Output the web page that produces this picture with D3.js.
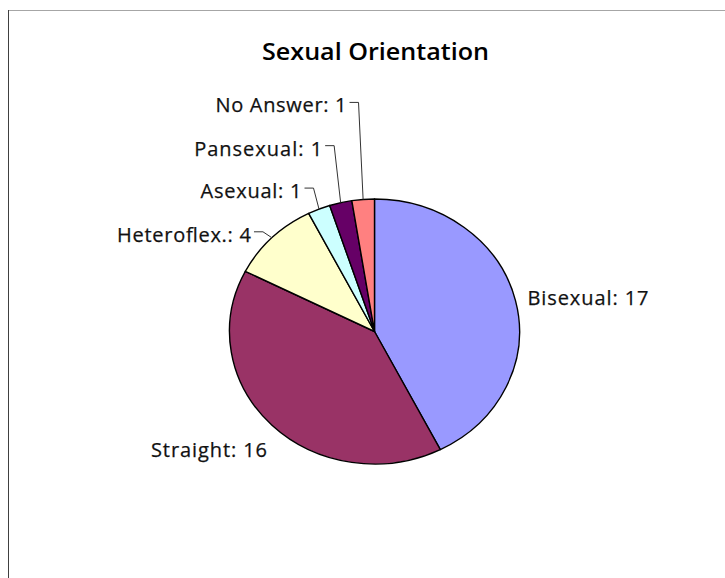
<!DOCTYPE html>
<html>
<head>
<meta charset="utf-8">
<script src="https://cdn.jsdelivr.net/npm/d3@7"></script>
<style>
  html, body { margin: 0; padding: 0; background: #fff; }
  svg { display: block; }
</style>
</head>
<body>
<svg id="chart" width="725" height="578"></svg>
<script>
// ---- data ----
const categories = ["Bisexual", "Straight", "Heteroflex.", "Asexual", "Pansexual", "No Answer"];
const values = [17, 16, 4, 1, 1, 1];
const colors = ["#9999FF", "#993366", "#FFFFCC", "#CCFFFF", "#660066", "#FF8080"];
const title = "Sexual Orientation";

// ---- layout (not data) ----
const W = 725, H = 578;
const cx = 374.5, cy = 331.5, ry = 132.5, rx = 145;
// label placement: "inline" (text near edge) or "leader" (leader line to bend point); w = rendered text width
const labelLayout = [
  { mode: "inline", dx: 12, dy: 4, anchor: "start", w: 121 },
  { mode: "inline", dx: -5, dy: 32, anchor: "end", w: 116 },
  { mode: "leader", dx: -9, dy: -6, w: 134 },
  { mode: "leader", dx: -5.5, dy: -21, w: 101 },
  { mode: "leader", dx: -6.5, dy: -57, w: 128 },
  { mode: "leader", dx: -4.6, dy: -97, w: 131 }
];

const svg = d3.select("#chart");

// frame lines
svg.append("line").attr("x1", 8).attr("x2", W).attr("y1", 10.5).attr("y2", 10.5)
  .attr("stroke", "#a6a6a6").attr("stroke-width", 1);
svg.append("line").attr("x1", 8.5).attr("x2", 8.5).attr("y1", 10).attr("y2", H)
  .attr("stroke", "#404040").attr("stroke-width", 1);

// title
svg.append("text")
  .attr("x", 262).attr("y", 59.5)
  .attr("text-anchor", "start")
  .attr("font-family", "'Open Sans', sans-serif")
  .attr("font-weight", 600)
  .attr("font-size", 24)
  .attr("textLength", 227)
  .attr("lengthAdjust", "spacingAndGlyphs")
  .attr("fill", "#000")
  .text(title);

const data = categories.map((c, i) => ({ name: c, value: values[i], color: colors[i], layout: labelLayout[i] }));

const pie = d3.pie().sort(null).value(d => d.value);
const arcs = pie(data);
const arc = d3.arc().innerRadius(0).outerRadius(ry);

const g = svg.append("g")
  .attr("transform", `translate(${cx},${cy}) scale(${rx / ry},1)`);

g.selectAll("path").data(arcs).join("path")
  .attr("d", arc)
  .attr("fill", d => d.data.color)
  .attr("stroke", "#000")
  .attr("stroke-width", 1.4)
  .attr("vector-effect", "non-scaling-stroke")
  .attr("stroke-linejoin", "round");

// labels
const labelFont = "'Open Sans', sans-serif";
function addLabel(x, y, anchor, w, txt) {
  const startX = anchor === "end" ? x - w : x;
  svg.append("text")
    .attr("x", startX).attr("y", y)
    .attr("text-anchor", "start")
    .attr("font-family", labelFont)
    .attr("font-size", 20)
    .attr("textLength", w)
    .attr("lengthAdjust", "spacing")
    .attr("fill", "#111")
    .attr("stroke", "#111")
    .attr("stroke-width", 0.25)
    .text(txt);
}
arcs.forEach(a => {
  const mid = (a.startAngle + a.endAngle) / 2;
  const ex = cx + rx * Math.sin(mid);
  const ey = cy - ry * Math.cos(mid);
  const L = a.data.layout;
  const txt = `${a.data.name}: ${a.data.value}`;
  if (L.mode === "inline") {
    addLabel(ex + L.dx, ey + L.dy, L.anchor, L.w, txt);
  } else {
    const bx = ex + L.dx, by = ey + L.dy;
    svg.append("polyline")
      .attr("points", `${ex},${ey} ${bx},${by} ${bx - 9},${by}`)
      .attr("fill", "none")
      .attr("stroke", "#333")
      .attr("stroke-width", 1);
    addLabel(bx - 12, by + 10, "end", L.w, txt);
  }
});
</script>
</body>
</html>
